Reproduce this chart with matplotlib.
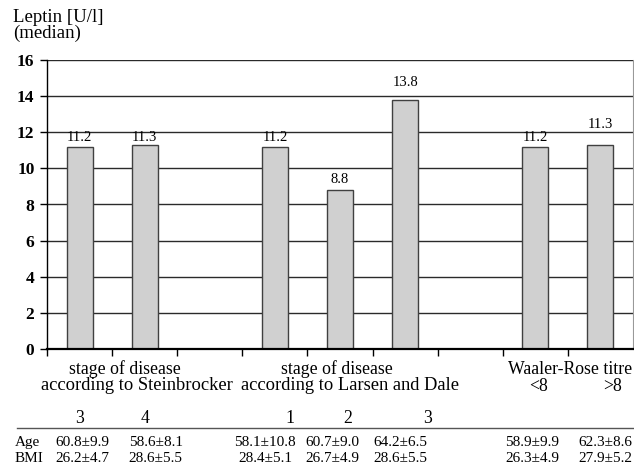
import matplotlib
matplotlib.use("Agg")
import matplotlib.pyplot as plt
from matplotlib.transforms import blended_transform_factory

plt.rcParams['font.family'] = ['Liberation Serif', 'DejaVu Serif']

# Leptin medians per subgroup
bar_labels = ["3", "4", "1", "2", "3", "<8", ">8"]
leptin = [11.2, 11.3, 11.2, 8.8, 13.8, 11.2, 11.3]
slots = [0.5, 1.5, 3.5, 4.5, 5.5, 7.5, 8.5]
label_lift = [0.49, 0.39, 0.49, 0.59, 0.98, 0.52, 1.14]

group_line1 = ["stage of disease", "stage of disease", "Waaler-Rose titre"]
group_line2 = ["according to Steinbrocker", "according to Larsen and Dale"]
age_vals = ["60.8±9.9", "58.6±8.1", "58.1±10.8", "60.7±9.0", "64.2±6.5", "58.9±9.9", "62.3±8.6"]
bmi_vals = ["26.2±4.7", "28.6±5.5", "28.4±5.1", "26.7±4.9", "28.6±5.5", "26.3±4.9", "27.9±5.2"]
yticks = [0, 2, 4, 6, 8, 10, 12, 14, 16]

W, H = 634, 473
fig = plt.figure(figsize=(W / 100, H / 100), dpi=100)
ax = fig.add_axes([47 / W, 1 - 349 / H, 586 / W, 289 / H])

ax.set_xlim(0, 9)
ax.set_ylim(0, 16)
for y in yticks[1:]:
    ax.axhline(y, color="#2a2a2a", lw=1.0, zorder=1)
ax.bar(slots, leptin, width=0.4, color="#d0d0d0", edgecolor="#404040", lw=1.0, zorder=2)
for x, v, d in zip(slots, leptin, label_lift):
    ax.text(x, v + d, f"{v:.1f}", ha="center", va="center", fontsize=10.5, zorder=3)

ax.set_yticks(yticks)
ax.set_yticklabels([str(t) for t in yticks], fontsize=12.5, fontweight="bold")
ax.set_xticks(range(0, 9))
ax.set_xticklabels([])
ax.tick_params(axis="y", direction="out", length=5, width=1, pad=4)
ax.tick_params(axis="x", direction="out", length=5, width=1)
ax.spines["top"].set_visible(False)
ax.spines["right"].set_color("#999999")
ax.spines["left"].set_linewidth(1.0)
ax.spines["bottom"].set_linewidth(1.6)
ax.spines["bottom"].set_zorder(4)

def fy(py):
    return 1 - py / H

tr = blended_transform_factory(ax.transData, fig.transFigure)

fig.text(13 / W, fy(17), "Leptin [U/l]", fontsize=13.5, va="center", ha="left")
fig.text(13 / W, fy(33), "(median)", fontsize=13.5, va="center", ha="left")

# group headings
for x, t in zip([1.20, 4.45, 8.03], group_line1):
    ax.text(x, fy(374), t, transform=tr, ha="center", va="baseline", fontsize=12.8)
for x, t in zip([1.375, 4.65], group_line2):
    ax.text(x, fy(390), t, transform=tr, ha="center", va="baseline", fontsize=13.3)

# subgroup labels
sub_x = [0.5, 1.5, 3.73, 4.62, 5.84]
for x, lab in zip(sub_x, bar_labels[:5]):
    ax.text(x, fy(423), lab, transform=tr, ha="center", va="baseline", fontsize=12.8)
for x, lab in zip([7.55, 8.68], bar_labels[5:]):
    ax.text(x, fy(391), lab, transform=tr, ha="center", va="baseline", fontsize=12.8)

# separator line and Age / BMI rows
fig.add_artist(plt.Line2D([17 / W, 1.0], [fy(428), fy(428)], color="#555555", lw=1.0))
fig.text(15 / W, fy(446), "Age", fontsize=11, va="baseline", ha="left")
fig.text(15 / W, fy(462), "BMI", fontsize=11, va="baseline", ha="left")
val_x = [0.54, 1.67, 3.35, 4.38, 5.42, 7.45, 8.57]
for x, a, b in zip(val_x, age_vals, bmi_vals):
    ax.text(x, fy(446), a, transform=tr, ha="center", va="baseline", fontsize=11)
    ax.text(x, fy(462), b, transform=tr, ha="center", va="baseline", fontsize=11)

fig.savefig("out.png", dpi=100)
